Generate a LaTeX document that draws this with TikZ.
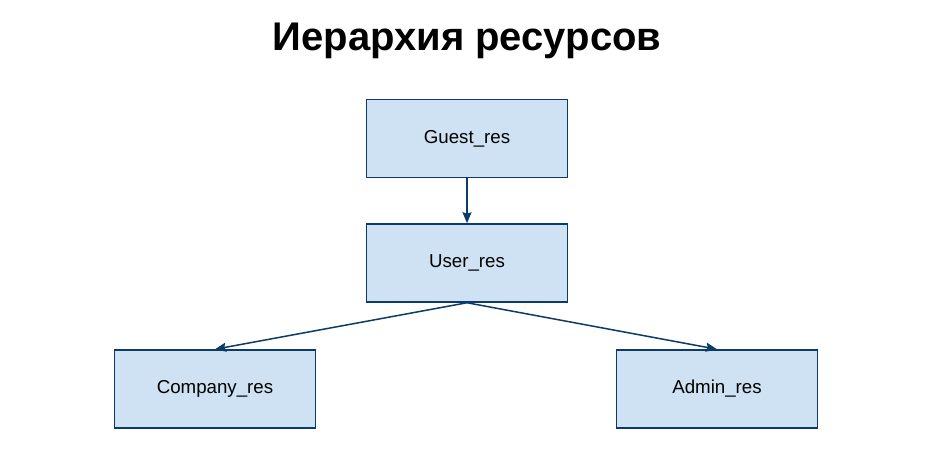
\documentclass[tikz,border=0pt]{standalone}
\usepackage{fontspec}
\setmainfont{Liberation Sans}
\usetikzlibrary{arrows.meta}
\definecolor{resfill}{HTML}{CFE2F3}
\definecolor{resline}{HTML}{0B3B66}
\tikzset{
  resbox/.style={draw=resline, fill=resfill, line width=1.5pt,
    minimum width=201pt, minimum height=78pt, inner sep=0pt,
    font=\fontsize{18.7}{22}\selectfont},
  reslink/.style={draw=resline, line width=1.5pt,
    -{Stealth[length=11pt,width=9pt,inset=1.5pt]}}
}
\begin{document}
\begin{tikzpicture}[x=1pt,y=-1pt]
\useasboundingbox (0,0) rectangle (933,454);

\node[anchor=base, font=\bfseries\fontsize{40}{46}\selectfont] (title) at (467,51) {Иерархия ресурсов};

\node[resbox] (guest) at (467,138.5) {\raisebox{-1.5pt}{Guest\_res}};
\node[resbox] (user) at (467,263) {\raisebox{-1.5pt}{User\_res}};
\node[resbox] (company) at (215,389) {\raisebox{-1.5pt}{Company\_res}};
\node[resbox] (admin) at (717,389) {\raisebox{-1.5pt}{Admin\_res}};

\draw[reslink] (guest.south) -- (user.north);
\draw[reslink] (user.south) -- (company.north);
\draw[reslink] (user.south) -- (admin.north);
\end{tikzpicture}
\end{document}
